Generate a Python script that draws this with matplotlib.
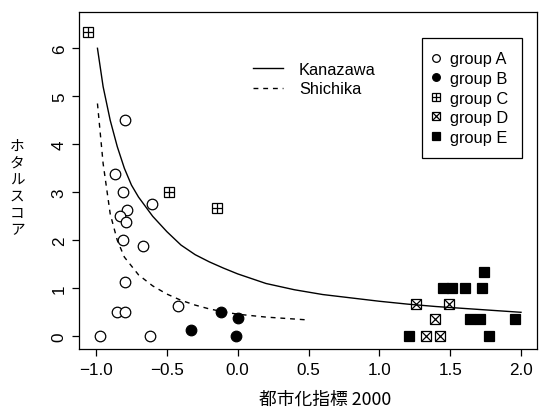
import matplotlib
matplotlib.use('Agg')
import matplotlib.pyplot as plt
from matplotlib.lines import Line2D

plt.rcParams['font.family'] = ['Liberation Sans', 'Noto Sans CJK JP', 'DejaVu Sans']

# puntos por grupo (x = 都市化指標 2000, y = ホタルスコア)
a_x = [-0.795, -0.868, -0.807, -0.607, -0.779, -0.831, -0.788, -0.807, -0.668,
       -0.795, -0.419, -0.850, -0.793, -0.970, -0.619]
a_y = [4.5, 3.38, 3.0, 2.75, 2.63, 2.5, 2.38, 2.0, 1.875, 1.125, 0.64, 0.5, 0.5, 0.0, 0.0]
b_x = [-0.12, 0.0, -0.33, -0.01]
b_y = [0.5, 0.375, 0.125, 0.0]
c_x = [-1.059, -0.487, -0.148]
c_y = [6.33, 3.0, 2.67]
d_x = [1.259, 1.492, 1.391, 1.327, 1.428]
d_y = [0.673, 0.673, 0.36, 0.0, 0.0]
e_x = [1.212, 1.776, 1.958, 1.640, 1.711, 1.447, 1.511, 1.605, 1.727, 1.741]
e_y = [0.0, 0.0, 0.35, 0.35, 0.35, 1.0, 1.0, 1.0, 1.0, 1.34]

# curvas
kana_x = [-0.99, -0.95, -0.9, -0.85, -0.8, -0.75, -0.7, -0.6, -0.5, -0.4, -0.3,
          -0.2, -0.1, 0.0, 0.2, 0.4, 0.6, 0.8, 1.0, 1.2, 1.4, 1.6, 1.8, 2.0]
kana_y = [6.0, 5.2, 4.5, 3.95, 3.5, 3.15, 2.9, 2.5, 2.18, 1.9, 1.7,
          1.55, 1.42, 1.3, 1.1, 0.97, 0.87, 0.8, 0.73, 0.67, 0.62, 0.58, 0.54, 0.5]
shi_x = [-0.99, -0.95, -0.9, -0.85, -0.8, -0.7, -0.6, -0.5, -0.4, -0.3, -0.2,
         -0.1, 0.0, 0.1, 0.2, 0.3, 0.4, 0.5]
shi_y = [4.85, 3.6, 2.55, 2.0, 1.65, 1.28, 1.05, 0.88, 0.75, 0.65, 0.57,
         0.51, 0.46, 0.43, 0.4, 0.38, 0.36, 0.34]

fig = plt.figure(figsize=(5.4, 4.1), dpi=100)
ax = fig.add_axes([0.1469, 0.1463, 0.8470, 0.8220])

ms = 7.6
mw = 0.9
ax.plot(kana_x, kana_y, '-', color='black', lw=1.0)
ax.plot(shi_x, shi_y, color='black', lw=1.0, linestyle=(0, (3.5, 3.5)))

ax.plot(a_x, a_y, 'o', mfc='white', mec='black', ms=ms, mew=mw, ls='none')
ax.plot(b_x, b_y, 'o', mfc='black', mec='black', ms=ms, mew=mw, ls='none')
ax.plot(c_x, c_y, 's', mfc='none', mec='black', ms=ms, mew=mw, ls='none')
ax.plot(c_x, c_y, '+', mec='black', ms=ms, mew=mw, ls='none')
ax.plot(d_x, d_y, 's', mfc='none', mec='black', ms=ms, mew=mw, ls='none')
ax.plot(d_x, d_y, 'x', mec='black', ms=ms, mew=mw, ls='none')
ax.plot(e_x, e_y, 's', mfc='black', mec='black', ms=ms, mew=mw, ls='none')

ax.set_xlim(-1.118, 2.111)
ax.set_ylim(-0.265, 6.756)
ax.set_xticks([-1.0, -0.5, 0.0, 0.5, 1.0, 1.5, 2.0])
ax.set_xticklabels(['\u22121.0', '\u22120.5', '0.0', '0.5', '1.0', '1.5', '2.0'])
ax.set_yticks([0, 1, 2, 3, 4, 5, 6])
ax.tick_params(labelsize=12.3, length=5, width=0.9, pad=4)
for lab in ax.get_yticklabels():
    lab.set_rotation(90)
    lab.set_va('center')
for s in ax.spines.values():
    s.set_linewidth(0.9)

# leyenda de lineas
h_lines = [Line2D([], [], color='black', lw=1.0),
           Line2D([], [], color='black', lw=1.0, linestyle=(0, (3.5, 3.5)))]
leg1 = ax.legend(h_lines, ['Kanazawa', 'Shichika'], loc='upper left',
                 bbox_to_anchor=(0.3798, 0.852), frameon=False, fontsize=11.8,
                 handlelength=1.8, handletextpad=1.0, labelspacing=0.28,
                 borderpad=0, borderaxespad=0)
ax.add_artist(leg1)

# leyenda de grupos
lms = 5.5
h_a = Line2D([], [], marker='o', mfc='white', mec='black', ms=lms, mew=mw, ls='none')
h_b = Line2D([], [], marker='o', mfc='black', mec='black', ms=lms, mew=mw, ls='none')
h_c = (Line2D([], [], marker='s', mfc='none', mec='black', ms=lms, mew=mw, ls='none'),
       Line2D([], [], marker='+', mec='black', ms=lms, mew=mw, ls='none'))
h_d = (Line2D([], [], marker='s', mfc='none', mec='black', ms=lms, mew=mw, ls='none'),
       Line2D([], [], marker='x', mec='black', ms=lms, mew=mw, ls='none'))
h_e = Line2D([], [], marker='s', mfc='black', mec='black', ms=lms, mew=mw, ls='none')
leg2 = ax.legend([h_a, h_b, h_c, h_d, h_e],
                 ['group A', 'group B', 'group C', 'group D', 'group E'],
                 loc='upper left', bbox_to_anchor=(0.7486, 0.922), fontsize=11.8,
                 handlelength=0.1, handletextpad=0.85, labelspacing=0.28,
                 borderpad=0.8, borderaxespad=0, fancybox=False,
                 edgecolor='black', framealpha=1)
leg2.get_frame().set_linewidth(0.9)

# etiquetas
fig.text(0.6019, 0.0244, '都市化指標 2000', ha='center', va='center', fontsize=12.8,
         family=['Noto Sans CJK JP', 'DejaVu Sans'])
fig.text(0.0315, 0.540, '\n'.join('ホタルスコア'), ha='center', va='center',
         fontsize=10.5, linespacing=1.25, family=['Noto Sans CJK JP', 'DejaVu Sans'])

fig.savefig('out.png', dpi=100)
